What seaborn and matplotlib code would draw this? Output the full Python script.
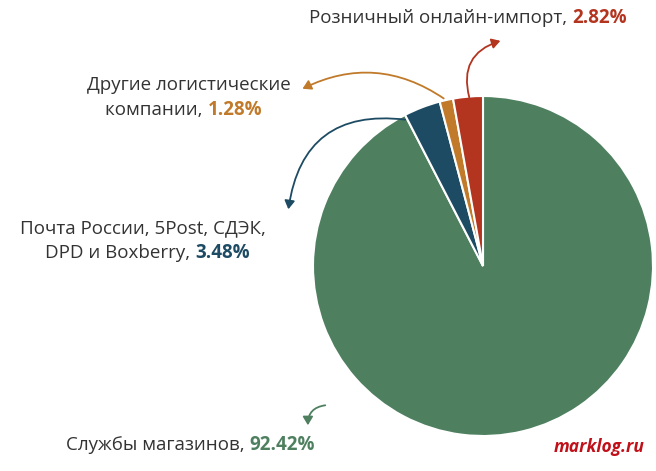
import matplotlib
matplotlib.use("Agg")
import matplotlib.pyplot as plt
import seaborn as sns

sns.set_theme(style="white")
plt.rcParams['font.family'] = ['Open Sans', 'DejaVu Sans']

categories = ["Службы магазинов", "Почта России, 5Post, СДЭК,\nDPD и Boxberry",
              "Другие логистические\nкомпании", "Розничный онлайн-импорт"]
shares = [92.42, 3.48, 1.28, 2.82]
colors = ["#4e8060", "#1d4b63", "#c07a2a", "#b3341f"]

W, H = 656, 471
FS = 13.5
fig = plt.figure(figsize=(W / 100, H / 100), dpi=100)
ax = fig.add_axes([(483 - 170) / W, (471 - 436) / H, 340 / W, 340 / H])
ax.pie(shares, colors=colors, startangle=90, counterclock=False, radius=1,
       wedgeprops=dict(edgecolor="white", linewidth=1.5))
ax.set_xlim(-1, 1)
ax.set_ylim(-1, 1)
ax.set_aspect("equal")

fig.canvas.draw()
r = fig.canvas.get_renderer()


def fx(x):
    return x / W


def fy(y):
    return 1 - y / H


def rich(x, y, plain, pct, col, align="left"):
    # draw "plain" + bold coloured pct on one line; x is left or right edge in px
    t1 = fig.text(0, 0, plain, fontsize=FS, color="#333333", va="center")
    t2 = fig.text(0, 0, pct, fontsize=FS, color=col, fontweight="bold", va="center")
    w1 = t1.get_window_extent(r).width
    w2 = t2.get_window_extent(r).width
    left = x if align == "left" else (x - w1 - w2 if align == "right" else x - (w1 + w2) / 2)
    t1.set_position((fx(left), fy(y)))
    t2.set_position((fx(left + w1), fy(y)))


def plain_line(x, y, s, ha):
    fig.text(fx(x), fy(y), s, fontsize=FS, color="#333333", va="center", ha=ha)


rich(627, 18, "Розничный онлайн-импорт, ", f"{shares[3]:.2f}%", colors[3], align="right")
plain_line(291, 85, "Другие логистические", "right")
rich(262, 110, "компании, ", f"{shares[2]:.2f}%", colors[2], align="right")
plain_line(143, 228, "Почта России, 5Post, СДЭК,", "center")
rich(250, 253, "DPD и Boxberry, ", f"{shares[1]:.2f}%", colors[1], align="right")
rich(66, 445, "Службы магазинов, ", f"{shares[0]:.2f}%", colors[0])
fig.text(fx(645), fy(447), "marklog.ru", fontsize=12.5, color="#c0101a",
         fontweight="bold", fontstyle="italic", ha="right", va="center")


def arrow(p0, p1, col, rad):
    fig.add_artist(matplotlib.patches.FancyArrowPatch(
        (fx(p0[0]), fy(p0[1])), (fx(p1[0]), fy(p1[1])), transform=fig.transFigure,
        arrowstyle="-|>,head_length=5,head_width=3", color=col, lw=1.3,
        connectionstyle=f"arc3,rad={rad}"))


arrow((470, 100), (503, 40), colors[3], -0.5)
arrow((446, 100), (300, 90), colors[2], 0.3)
arrow((408, 120), (288, 212), colors[1], 0.5)
arrow((328, 405), (308, 428), colors[0], 0.5)

fig.savefig("out.png", dpi=100)
